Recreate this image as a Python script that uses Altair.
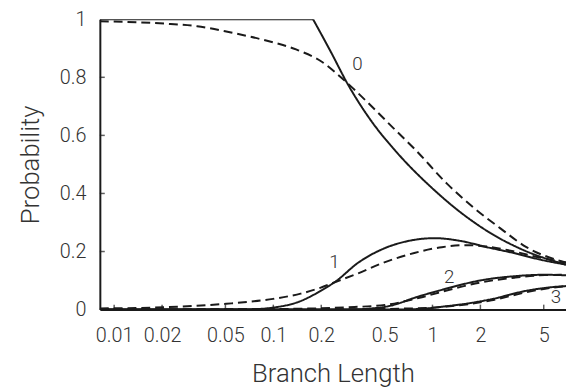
import altair as alt
import pandas as pd

# ---- data ----
s0_flat_x = [0.00813, 0.1777]
s0_flat_y = [1.0, 1.0]
s0_x = [0.1777, 0.2291, 0.2925, 0.412, 0.5805, 1.029, 1.517, 2.323, 3.728, 6.9]
s0_y = [1.0, 0.889, 0.778, 0.650, 0.549, 0.411, 0.333, 0.263, 0.205, 0.155]

d0_x = [0.00813, 0.02057, 0.0332, 0.0533, 0.0866, 0.1389, 0.2039, 0.2723, 0.394, 0.5805, 0.773, 1.237, 1.824, 2.683, 3.893, 6.9]
d0_y = [0.993, 0.985, 0.976, 0.955, 0.929, 0.896, 0.852, 0.795, 0.712, 0.620, 0.553, 0.433, 0.350, 0.279, 0.215, 0.162]

s1_x = [0.00813, 0.0605, 0.0802, 0.0998, 0.1448, 0.1933, 0.2463, 0.3424, 0.5035, 0.7004, 1.029, 1.517, 2.194, 3.234, 4.761, 6.9]
s1_y = [0.0, 0.0, 0.002, 0.007, 0.027, 0.061, 0.097, 0.162, 0.212, 0.236, 0.246, 0.236, 0.215, 0.195, 0.172, 0.155]

d1_x = [0.00813, 0.02057, 0.0506, 0.0998, 0.1486, 0.1971, 0.2454, 0.3414, 0.4845, 0.7685, 1.144, 1.609, 2.35, 3.271, 4.642, 6.9]
d1_y = [0.004, 0.008, 0.02, 0.037, 0.055, 0.075, 0.095, 0.125, 0.16, 0.195, 0.215, 0.222, 0.215, 0.200, 0.180, 0.162]

s2_x = [0.00813, 0.2935, 0.3892, 0.532, 0.8155, 1.144, 1.424, 1.981, 3.271, 5.096, 6.9]
s2_y = [0.0, 0.0, 0.003, 0.012, 0.045, 0.068, 0.082, 0.100, 0.115, 0.120, 0.118]

d2_x = [0.00813, 0.0998, 0.2935, 0.532, 0.8155, 1.424, 1.981, 3.271, 5.096, 6.9]
d2_y = [0.0, 0.002, 0.008, 0.018, 0.040, 0.075, 0.093, 0.110, 0.119, 0.120]

s3_x = [0.00813, 0.5795, 0.8624, 1.237, 1.703, 2.35, 3.911, 5.553, 6.9]
s3_y = [0.0, 0.0, 0.003, 0.012, 0.022, 0.036, 0.065, 0.077, 0.081]

d3_x = [0.00813, 0.2935, 0.9565, 1.237, 1.703, 2.35, 3.911, 5.553, 6.9]
d3_y = [0.0, 0.001, 0.006, 0.011, 0.019, 0.032, 0.060, 0.075, 0.080]

label_text = ["0", "1", "2", "3"]
label_x = [0.3376, 0.2425, 1.275, 5.976]
label_y = [0.845, 0.165, 0.111, 0.044]

x_ticks = [0.01, 0.02, 0.05, 0.1, 0.2, 0.5, 1, 2, 5]
y_ticks = [0, 0.2, 0.4, 0.6, 0.8, 1]
x_domain = [0.00813, 6.9]

# ---- build tables ----
def series(name, style, xs, ys):
    return pd.DataFrame({"x": xs, "y": ys, "series": name, "style": style})

curved = pd.concat([
    series("s0", "solid", s0_x, s0_y),
    series("d0", "dashed", d0_x, d0_y),
    series("s1", "solid", s1_x, s1_y),
    series("d1", "dashed", d1_x, d1_y),
    series("s2", "solid", s2_x, s2_y),
    series("d2", "dashed", d2_x, d2_y),
    series("s3", "solid", s3_x, s3_y),
    series("d3", "dashed", d3_x, d3_y),
])
flat = series("s0f", "solid", s0_flat_x, s0_flat_y)
labels = pd.DataFrame({"t": label_text, "x": label_x, "y": label_y})
xt = pd.DataFrame({"x": list(x_ticks)})
yt = pd.DataFrame({"y": list(y_ticks[1:-1])})

FONT = "Roboto"
W, H = 472, 294
INK = "#1a1a1a"

xscale = alt.Scale(type="log", domain=x_domain)
yscale = alt.Scale(domain=[0, 1])

xenc = alt.X("x:Q", scale=xscale,
             axis=alt.Axis(values=x_ticks, format="~g", title="Branch Length",
                           grid=False, ticks=False, labelPadding=16,
                           titlePadding=16, domainWidth=2, domainColor=INK))
yenc = alt.Y("y:Q", scale=yscale,
             axis=alt.Axis(values=y_ticks, format="~g", title="Probability",
                           grid=False, ticks=False, labelPadding=14,
                           titlePadding=16, domainWidth=2, domainColor=INK))

dash = alt.StrokeDash("style:N", scale=alt.Scale(domain=["solid", "dashed"],
                                                 range=[[1, 0], [9, 5]]), legend=None)

lines = alt.Chart(curved).mark_line(interpolate="monotone", color=INK,
                                    strokeWidth=2, clip=True).encode(
    x=xenc, y=yenc, detail="series:N", strokeDash=dash)

flat_line = alt.Chart(flat).mark_line(color=INK, strokeWidth=2.2, clip=True).encode(
    x=alt.X("x:Q", scale=xscale), y=alt.Y("y:Q", scale=yscale))

text = alt.Chart(labels).mark_text(font=FONT, fontSize=19, fontWeight=300,
                                   color="#333333").encode(
    x=alt.X("x:Q", scale=xscale), y=alt.Y("y:Q", scale=yscale), text="t:N")

xticks = alt.Chart(xt).mark_tick(color=INK, thickness=1.5, size=5).encode(
    x=alt.X("x:Q", scale=xscale), y=alt.value(H - 2.5))
yticks = alt.Chart(yt).mark_tick(color=INK, thickness=1.5, size=5).encode(
    y=alt.Y("y:Q", scale=yscale), x=alt.value(2.5))

chart = alt.layer(lines, flat_line, xticks, yticks, text).properties(
    width=W, height=H,
    autosize=alt.AutoSizeParams(type="none"),
    padding={"left": 93, "top": 9, "right": 0, "bottom": 77},
).configure_view(stroke=None).configure_axis(
    labelFont=FONT, labelFontSize=20, labelFontWeight=300, labelColor="#333333",
    titleFont=FONT, titleFontSize=26, titleFontWeight=300, titleColor="#333333",
)

chart.save("out.html", embed_options={"renderer": "svg", "actions": False})
